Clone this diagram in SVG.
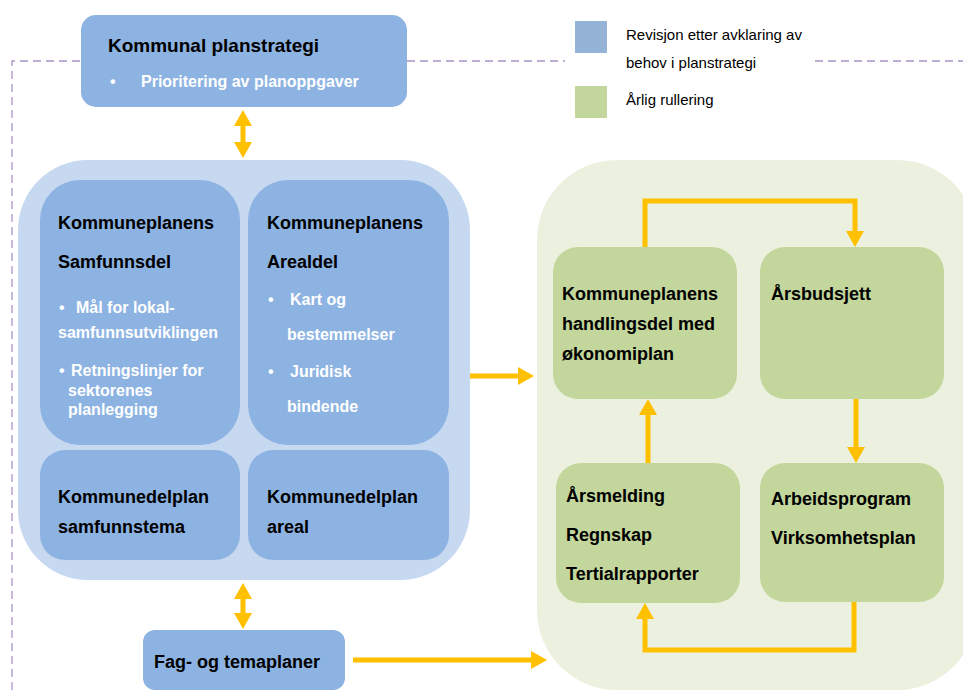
<svg xmlns="http://www.w3.org/2000/svg" width="963" height="692" viewBox="0 0 963 692">
<defs>
<style>
.t{font-family:"Liberation Sans",Arial,sans-serif;font-weight:bold;fill:#000;font-size:18px}
.w{font-family:"Liberation Sans",Arial,sans-serif;font-weight:bold;fill:#fff;font-size:16px}
.lg{font-family:"Liberation Sans",Arial,sans-serif;fill:#000;font-size:15px}
.blue{fill:#8DB3E2}
.green{fill:#C3D69B}
.arr{fill:none;stroke:#FFC000;stroke-width:5;marker-end:url(#ah)}
.dbl{fill:none;stroke:#FFC000;stroke-width:5;marker-end:url(#ah);marker-start:url(#ah)}
.dash{fill:none;stroke:#A994C9;stroke-width:1.3;stroke-dasharray:8 5}
</style>
<marker id="ah" markerUnits="userSpaceOnUse" markerWidth="16" markerHeight="18" viewBox="0 0 16 18" refX="2" refY="9" orient="auto-start-reverse">
<path d="M0,0 L16,9 L0,18 z" fill="#FFC000"/>
</marker>
</defs>
<rect width="963" height="692" fill="#fff"/>
<g id="dashed-frame">
<path class="dash" d="M12,690 V61 H81 M407,61 H565 M815,61 H963"/>
</g>
<g id="legend">
<rect x="575" y="21" width="32" height="32" fill="#95B3D7"/>
<rect x="575" y="86" width="32" height="32" fill="#C3D69B"/>
<text class="lg" x="626" y="40">Revisjon etter avklaring av</text>
<text class="lg" x="626" y="68">behov i planstrategi</text>
<text class="lg" x="626" y="105">Årlig rullering</text>
</g>
<g id="planstrategi">
<rect class="blue" x="81" y="15" width="326" height="92" rx="15"/>
<text class="t" x="108" y="52" style="font-size:19px">Kommunal planstrategi</text>
<text class="w" x="110" y="87">•</text>
<text class="w" x="141" y="87">Prioritering av planoppgaver</text>
</g>
<g id="kommuneplan-container">
<rect x="18" y="160" width="452" height="420" rx="70" fill="#C6D9F1"/>
</g>
<g id="samfunnsdel">
<rect class="blue" x="40" y="180" width="200" height="265" rx="40"/>
<text class="t" x="58" y="229">Kommuneplanens</text>
<text class="t" x="58" y="268">Samfunnsdel</text>
<text class="w" x="59" y="313">•</text>
<text class="w" x="76" y="313">Mål for lokal-</text>
<text class="w" x="58" y="338">samfunnsutviklingen</text>
<text class="w" x="59" y="376">•</text>
<text class="w" x="71" y="376">Retningslinjer for</text>
<text class="w" x="68" y="396">sektorenes</text>
<text class="w" x="68" y="415">planlegging</text>
</g>
<g id="arealdel">
<rect class="blue" x="248" y="180" width="201" height="265" rx="40"/>
<text class="t" x="267" y="229">Kommuneplanens</text>
<text class="t" x="267" y="268">Arealdel</text>
<text class="w" x="268" y="305">•</text>
<text class="w" x="290" y="305">Kart og</text>
<text class="w" x="287" y="340">bestemmelser</text>
<text class="w" x="268" y="377">•</text>
<text class="w" x="290" y="377">Juridisk</text>
<text class="w" x="287" y="412">bindende</text>
</g>
<g id="delplan-samfunn">
<rect class="blue" x="40" y="450" width="200" height="110" rx="25"/>
<text class="t" x="58" y="503">Kommunedelplan</text>
<text class="t" x="58" y="533">samfunnstema</text>
</g>
<g id="delplan-areal">
<rect class="blue" x="248" y="450" width="201" height="110" rx="25"/>
<text class="t" x="267" y="503">Kommunedelplan</text>
<text class="t" x="267" y="533">areal</text>
</g>
<g id="fagplaner">
<rect class="blue" x="143" y="630" width="202" height="60" rx="12"/>
<text class="t" x="154" y="668">Fag- og temaplaner</text>
</g>
<g id="arlig-container">
<rect x="537" y="160" width="440" height="530" rx="80" fill="#EBF1DE"/>
</g>
<g id="handlingsdel">
<rect class="green" x="553" y="247" width="184" height="152" rx="25"/>
<text class="t" x="562" y="300">Kommuneplanens</text>
<text class="t" x="562" y="330">handlingsdel med</text>
<text class="t" x="562" y="360">økonomiplan</text>
</g>
<g id="arsbudsjett">
<rect class="green" x="760" y="247" width="184" height="152" rx="25"/>
<text class="t" x="771" y="300">Årsbudsjett</text>
</g>
<g id="arsmelding">
<rect class="green" x="556" y="463" width="184" height="140" rx="25"/>
<text class="t" x="566" y="502">Årsmelding</text>
<text class="t" x="566" y="541">Regnskap</text>
<text class="t" x="566" y="580">Tertialrapporter</text>
</g>
<g id="arbeidsprogram">
<rect class="green" x="760" y="463" width="184" height="139" rx="25"/>
<text class="t" x="771" y="505">Arbeidsprogram</text>
<text class="t" x="771" y="544">Virksomhetsplan</text>
</g>
<g id="connectors">
<path class="dbl" d="M243,124 V144"/>
<path class="dbl" d="M243,597 V615"/>
<path class="arr" d="M470,376 H520"/>
<path class="arr" d="M353,660 H533"/>
<path class="arr" d="M645,247 V201 H855 V233"/>
<path class="arr" d="M856,399 V449"/>
<path class="arr" d="M854,602 V650 H645 V617"/>
<path class="arr" d="M648,463 V413"/>
</g>
</svg>
